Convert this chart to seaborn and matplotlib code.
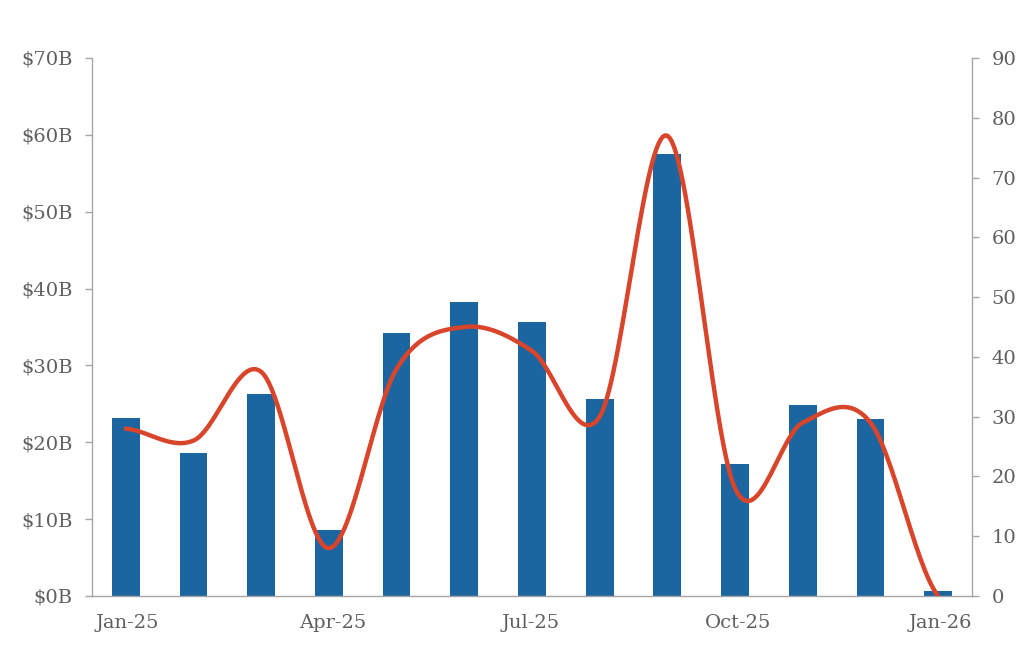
import numpy as np
import pandas as pd
import matplotlib
matplotlib.use("Agg")
import matplotlib.pyplot as plt
import matplotlib.transforms as mtransforms
import seaborn as sns

# datos
months = ["Jan-25", "Feb-25", "Mar-25", "Apr-25", "May-25", "Jun-25", "Jul-25",
          "Aug-25", "Sep-25", "Oct-25", "Nov-25", "Dec-25", "Jan-26"]
value_b = [23.1, 18.6, 26.3, 8.6, 34.2, 38.2, 35.6, 25.6, 57.5, 17.2, 24.8, 23.0, 0.7]
deal_count = [28, 26, 37.5, 8, 38, 45, 41, 30, 77, 18, 29, 29, 0]
tick_labels = ["Jan-25", "Apr-25", "Jul-25", "Oct-25", "Jan-26"]

bar_color = "#1b65a0"
line_color = "#d9452b"
text_color = "#5f5f5f"
spine_color = "#a6a6a6"


def catmull_rom(y, n=30):
    # suavizado tipo spline para dibujar la linea
    pts = np.array(y, dtype=float)
    xs, ys = [], []
    padded = np.concatenate([[pts[0]], pts, [pts[-1]]])
    for i in range(len(pts) - 1):
        p0, p1, p2, p3 = padded[i:i + 4]
        t = np.linspace(0, 1, n, endpoint=False)
        yy = 0.5 * ((2 * p1) + (-p0 + p2) * t + (2 * p0 - 5 * p1 + 4 * p2 - p3) * t ** 2
                    + (-p0 + 3 * p1 - 3 * p2 + p3) * t ** 3)
        xs.extend(i + t)
        ys.extend(yy)
    xs.append(len(pts) - 1)
    ys.append(pts[-1])
    return np.array(xs), np.array(ys)


df = pd.DataFrame({"month": months, "value": value_b})

sns.set_style("white")
plt.rcParams["font.family"] = ["DejaVu Serif"]

fig = plt.figure(figsize=(10.24, 6.68), dpi=100)
ax = fig.add_axes([0.0898, 0.1078, 0.8594, 0.8054])

sns.barplot(data=df, x="month", y="value", color=bar_color, width=0.41,
            saturation=1, linewidth=0, ax=ax)
ax.set_xlim(-0.5, len(months) - 0.5)
ax.set_ylim(0, 70)
ax.set_yticks(range(0, 71, 10))
ax.set_yticklabels([f"${v}B" for v in range(0, 71, 10)])
ax.set_xticks([-0.5, 2.5, 5.5, 8.5, 11.5])
ax.set_xticklabels(tick_labels, ha="left")
ax.set_xlabel("")
ax.set_ylabel("")

ax2 = ax.twinx()
sx, sy = catmull_rom(deal_count)
ax2.plot(sx, sy, color=line_color, lw=3.2, solid_capstyle="round")
ax2.set_ylim(0, 90)
ax2.set_yticks(range(0, 91, 10))
ax2.set_xlim(-0.5, len(months) - 0.5)

for a in (ax, ax2):
    for s in a.spines.values():
        s.set_visible(False)
    a.tick_params(colors=spine_color, labelcolor=text_color, labelsize=14,
                  length=5, width=1)
ax.spines["left"].set_visible(True)
ax.spines["bottom"].set_visible(True)
ax2.spines["right"].set_visible(True)
for s in (ax.spines["left"], ax.spines["bottom"], ax2.spines["right"]):
    s.set_color(spine_color)
    s.set_linewidth(1)
ax.tick_params(axis="y", pad=9)
ax2.tick_params(axis="y", pad=9)
ax.tick_params(axis="x", pad=8)

# las etiquetas del eje x empiezan un poco a la derecha del tick
shift = mtransforms.ScaledTranslation(4 / 100, 0, fig.dpi_scale_trans)
for lbl in ax.get_xticklabels():
    lbl.set_transform(lbl.get_transform() + shift)

fig.savefig("out.png", dpi=100, facecolor="white")
